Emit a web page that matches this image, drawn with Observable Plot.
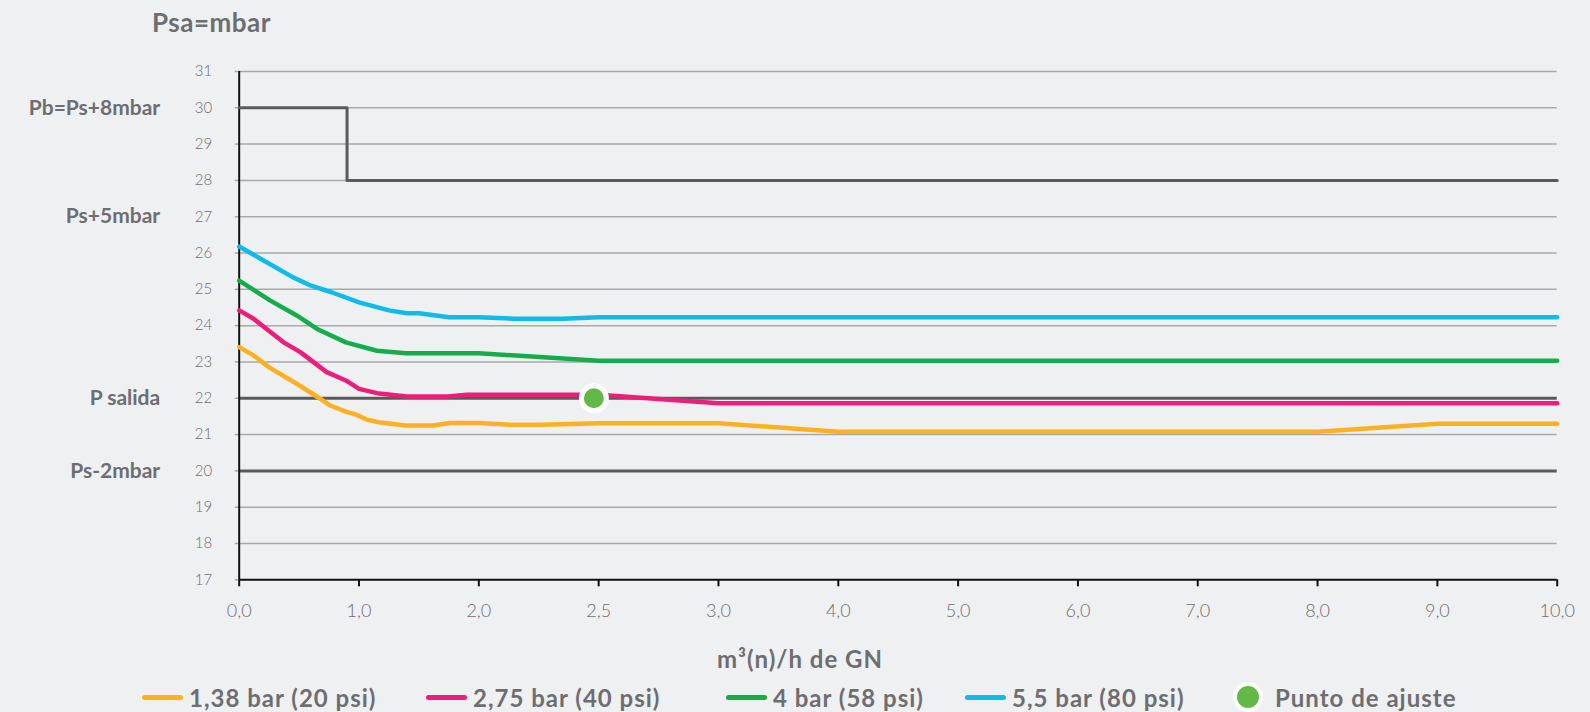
<!DOCTYPE html>
<html><head><meta charset="utf-8">
<script src="https://cdn.jsdelivr.net/npm/d3@7"></script>
<script src="https://cdn.jsdelivr.net/npm/@observablehq/plot@0.6"></script>
<style>
html,body{margin:0;padding:0;background:#eff0f2;}
body{width:1590px;height:712px;overflow:hidden;position:relative;font-family:Lato,"Open Sans",sans-serif;}
#title{height:45px;line-height:45px;padding-left:152px;font-weight:700;font-size:26px;letter-spacing:0.5px;color:#6d6e71;}
#chart svg{display:block;}
#xtitle{position:absolute;top:645px;left:0;width:1600px;text-align:center;font-weight:700;font-size:24px;letter-spacing:1px;line-height:28px;color:#6d6e71;}
#legend{position:absolute;top:683px;left:0;width:1590px;height:28px;}
.item{position:absolute;top:0;height:28px;display:flex;align-items:center;font-weight:700;font-size:24px;letter-spacing:1px;color:#6d6e71;white-space:nowrap;}
.sw{display:inline-block;width:41px;height:5px;border-radius:3px;margin-right:6px;}
.dotsw{display:inline-block;width:22px;height:22px;border-radius:50%;border:4px solid #fff;margin-right:12px;}
</style></head><body>
<div id="title">Psa=mbar</div>
<div id="chart"></div>
<div id="xtitle">m³(n)/h de GN</div>
<div id="legend"></div>
<script>
// ---- data ----
const xTicks = [0, 1, 2, 2.5, 3, 4, 5, 6, 7, 8, 9, 10];
const yTicks = [17, 18, 19, 20, 21, 22, 23, 24, 25, 26, 27, 28, 29, 30, 31];
const gridValues = [18, 19, 21, 23, 24, 25, 26, 27, 28, 29, 30, 31];
const thickRefs = [20, 22];
const refLabelValues = [30, 27, 22, 20];
const refLabelTexts = ["Pb=Ps+8mbar", "Ps+5mbar", "P salida", "Ps-2mbar"];
const stepX = [0, 0.9, 10];
const stepY = [30, 28, 28];
const seriesNames = ["1,38 bar (20 psi)", "2,75 bar (40 psi)", "4 bar (58 psi)", "5,5 bar (80 psi)"];
const seriesColors = ["#fcb022", "#ec1e79", "#13ae4b", "#0fbbe8"];
const x138 = [0, 0.12, 0.25, 0.48, 0.68, 0.76, 0.9, 0.96, 1.07, 1.18, 1.39, 1.62, 1.76, 2.0, 2.13, 2.26, 2.5, 3.0, 4.0, 8.0, 9.0, 10];
const y138 = [23.41, 23.18, 22.85, 22.4, 21.98, 21.8, 21.62, 21.57, 21.41, 21.33, 21.25, 21.25, 21.32, 21.32, 21.27, 21.27, 21.31, 21.31, 21.08, 21.08, 21.3, 21.3];
const x275 = [0, 0.12, 0.37, 0.51, 0.73, 0.89, 1.0, 1.15, 1.4, 1.74, 1.9, 2.5, 3.0, 10];
const y275 = [24.42, 24.19, 23.54, 23.27, 22.72, 22.49, 22.26, 22.14, 22.05, 22.05, 22.1, 22.1, 21.86, 21.86];
const x4 = [0, 0.26, 0.48, 0.65, 0.89, 1.15, 1.39, 2.0, 2.5, 10];
const y4 = [25.24, 24.69, 24.28, 23.91, 23.54, 23.31, 23.24, 23.24, 23.03, 23.03];
const x55 = [0, 0.2, 0.45, 0.6, 0.77, 1.0, 1.25, 1.4, 1.5, 1.75, 2.0, 2.15, 2.35, 2.5, 10];
const y55 = [26.18, 25.8, 25.33, 25.1, 24.92, 24.64, 24.42, 24.34, 24.34, 24.23, 24.23, 24.19, 24.19, 24.23, 24.23];
const setPointX = [2.48];
const setPointY = [22];
const setPointName = "Punto de ajuste";
const setPointColor = "#63b946";

// ---- build tables ----
const seriesX = [x138, x275, x4, x55];
const seriesY = [y138, y275, y4, y55];
const rows = [];
seriesNames.forEach((name, k) => seriesX[k].forEach((x, i) => rows.push({x, y: seriesY[k][i], s: name})));
const stepRows = stepX.map((x, i) => ({x, y: stepY[i]}));
const setRows = setPointX.map((x, i) => ({x, y: setPointY[i]}));
const refMap = new Map(refLabelValues.map((v, i) => [v, refLabelTexts[i]]));
const fmtX = d => d.toFixed(1).replace(".", ",");

const chart = Plot.plot({
  width: 1590, height: 585,
  marginTop: 26, marginBottom: 50.7, marginLeft: 238.7, marginRight: 33.3,
  style: {background: "transparent", fontFamily: "Lato, 'Open Sans', sans-serif", overflow: "visible"},
  x: {type: "linear", domain: xTicks, label: null},
  y: {domain: [17, 31], label: null},
  color: {domain: seriesNames, range: seriesColors},
  marks: [
    Plot.ruleY(gridValues, {stroke: "#a9a9a9", strokeWidth: 1.5}),
    Plot.ruleY(thickRefs, {stroke: "#5a5a5a", strokeWidth: 3}),
    Plot.axisY(yTicks, {tickSize: 4, tickPadding: 23, stroke: "#a9a9a9", strokeWidth: 1.5, fill: "#6e6e6e", fontSize: 15, fontWeight: 300, label: null}),
    Plot.axisY(refLabelValues, {tickSize: 0, tickPadding: 79, tickFormat: d => refMap.get(d), fill: "#6d6e71", fontSize: 21, fontWeight: "bold", label: null}),
    Plot.axisX(xTicks, {tickSize: 7, tickPadding: 17, stroke: "#111", strokeWidth: 2, tickFormat: fmtX, fill: "#6e6e6e", fontSize: 18, fontWeight: 300, label: null}),
    Plot.ruleX([0], {stroke: "#111", strokeWidth: 2}),
    Plot.ruleY([17], {stroke: "#111", strokeWidth: 2}),
    Plot.line(stepRows, {x: "x", y: "y", curve: "step-after", stroke: "#5a5a5a", strokeWidth: 3}),
    Plot.line(rows, {x: "x", y: "y", z: "s", stroke: "s", strokeWidth: 4.5, strokeLinejoin: "round", strokeLinecap: "round"}),
    Plot.dot(setRows, {x: "x", y: "y", r: 12.5, fill: setPointColor, stroke: "#fff", strokeWidth: 5})
  ]
});
document.getElementById("chart").append(chart);

// ---- legend ----
const legendLeft = [142, 426, 726, 965, 1233];
const legend = document.getElementById("legend");
seriesNames.forEach((name, i) => {
  const it = document.createElement("div");
  it.className = "item";
  it.style.left = legendLeft[i] + "px";
  const sw = document.createElement("span");
  sw.className = "sw";
  sw.style.background = seriesColors[i];
  it.append(sw, document.createTextNode(name));
  legend.append(it);
});
const dit = document.createElement("div");
dit.className = "item";
dit.style.left = legendLeft[4] + "px";
const dsw = document.createElement("span");
dsw.className = "dotsw";
dsw.style.background = setPointColor;
dit.append(dsw, document.createTextNode(setPointName));
legend.append(dit);
</script>
</body></html>
